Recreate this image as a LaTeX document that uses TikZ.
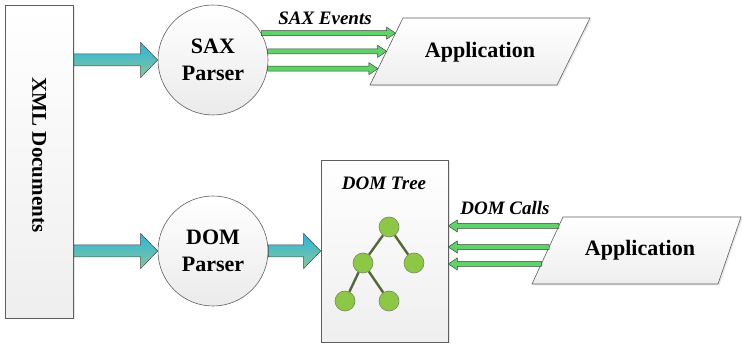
\documentclass[tikz,border=0pt]{standalone}
\usepackage{fontspec}
\setmainfont{Liberation Serif}
\usetikzlibrary{calc,shadows}
\definecolor{boxline}{RGB}{95,95,95}
\definecolor{grn}{RGB}{95,210,105}
\definecolor{grnline}{RGB}{55,75,55}
\definecolor{cyanarr}{RGB}{40,180,225}
\definecolor{greenarr}{RGB}{135,200,150}
\definecolor{treenode}{RGB}{140,200,70}
\definecolor{treeline}{RGB}{85,105,55}
\begin{document}
\begin{tikzpicture}[x=1pt,y=-1pt,
  panel/.style={draw=boxline, line width=0.6pt, top color=white, bottom color=gray!13,
    drop shadow={shadow xshift=1.5pt, shadow yshift=-1.5pt, opacity=0.18}},
  circ/.style={circle, draw=boxline, line width=0.6pt, top color=white, bottom color=gray!16,
    minimum size=110pt, inner sep=0pt, align=center, font=\bfseries\fontsize{22}{27}\selectfont},
  bigtxt/.style={font=\bfseries\fontsize{22}{27}\selectfont},
  lbl/.style={font=\bfseries\itshape\fontsize{19}{22}\selectfont},
  tnode/.style={circle, fill=treenode, draw=treeline!80, line width=0.6pt, minimum size=20pt, inner sep=0pt},
  tedge/.style={draw=treeline, line width=2.4pt},
  barrow/.style={draw=gray!55!black, line width=0.5pt, top color=cyanarr, bottom color=greenarr,
    to path={let \p1=(\tikztostart), \p2=(\tikztotarget), \p3=($(\tikztotarget)!17pt!(\tikztostart)$) in
      (\x1,\y1+6pt) -- (\x3,\y1+6pt) -- (\x3,\y1+17.5pt) -- (\x2,\y1)
      -- (\x3,\y1-17.5pt) -- (\x3,\y1-6pt) -- (\x1,\y1-6pt) -- cycle}},
  garrow/.style={fill=grn, draw=grnline, line width=0.5pt,
    to path={let \p1=(\tikztostart), \p2=(\tikztotarget), \p3=($(\tikztotarget)!9pt!(\tikztostart)$) in
      (\x1,\y1+2.5pt) -- (\x3,\y1+2.5pt) -- (\x3,\y1+6pt) -- (\x2,\y1)
      -- (\x3,\y1-6pt) -- (\x3,\y1-2.5pt) -- (\x1,\y1-2.5pt) -- cycle}}
]
\useasboundingbox (0,0) rectangle (742,344);

% XML Documents
\node[panel, minimum width=68pt, minimum height=313pt, inner sep=0pt] (xml) at (39.5,161.5) {};
\node[rotate=-90, font=\bfseries\fontsize{21}{25}\selectfont] (xmltxt) at (39,155) {XML Documents};

% Parsers
\node[circ] (sax) at (213,60) {SAX\\Parser};
\node[circ] (dom) at (213,251) {DOM\\Parser};

% DOM tree box
\node[panel, minimum width=127pt, minimum height=182pt, inner sep=0pt] (domtree) at (384.5,251) {};
\node[lbl] (domtreelbl) at (384,183) {DOM Tree};

% Application (top)
\coordinate (a1tl) at (403,18);
\coordinate (a1tr) at (590,18);
\coordinate (a1br) at (557,85);
\coordinate (a1bl) at (370,85);
\draw[panel] (a1tl) -- (a1tr) -- (a1br) -- (a1bl) -- cycle;
\node[bigtxt] (app1) at (480,52) {Application};

% Application (bottom)
\coordinate (a2tl) at (563,217);
\coordinate (a2tr) at (741,217);
\coordinate (a2br) at (718,284);
\coordinate (a2bl) at (532,284);
\draw[panel] (a2tl) -- (a2tr) -- (a2br) -- (a2bl) -- cycle;
\node[bigtxt] (app2) at (640,250) {Application};

% block arrows
\draw[barrow] (xml.east |- sax.west) to (sax.west);
\draw[barrow] (xml.east |- dom.west) to (dom.west);
\draw[barrow] (dom.east) to (dom.east -| domtree.west);

% SAX events
\coordinate (s1) at ($(a1tl)!0.224!(a1bl)$);
\coordinate (s2) at ($(a1tl)!0.493!(a1bl)$);
\coordinate (s3) at ($(a1tl)!0.761!(a1bl)$);
\draw[garrow] (sax.29.4) to (s1);
\draw[garrow] (sax.9.4) to (s2);
\draw[garrow] (sax.-9.4) to (s3);
\node[lbl] (saxev) at (325,18) {SAX Events};

% DOM calls
\coordinate (c1) at ($(a2tl)!0.134!(a2bl)$);
\coordinate (c2) at ($(a2tl)!0.448!(a2bl)$);
\coordinate (c3) at ($(a2tl)!0.701!(a2bl)$);
\draw[garrow] (c1) to (c1 -| domtree.east);
\draw[garrow] (c2) to (c2 -| domtree.east);
\draw[garrow] (c3) to (c3 -| domtree.east);
\node[lbl] (domcalls) at (505,208) {DOM Calls};

% tree
\node[tnode] (t1) at (389,227) {};
\node[tnode] (t2) at (363,263) {};
\node[tnode] (t3) at (414,263) {};
\node[tnode] (t4) at (345,301) {};
\node[tnode] (t5) at (389,301) {};
\draw[tedge] (t1) -- (t2);
\draw[tedge] (t1) -- (t3);
\draw[tedge] (t2) -- (t4);
\draw[tedge] (t2) -- (t5);
\end{tikzpicture}
\end{document}
